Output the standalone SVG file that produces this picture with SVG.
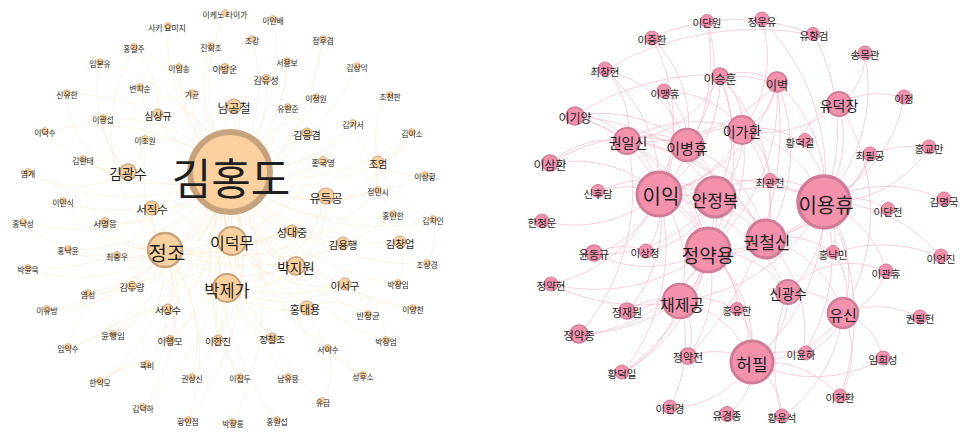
<svg xmlns="http://www.w3.org/2000/svg" width="967" height="435" viewBox="0 0 967 435">
<style>
.t{font-family:"Noto Sans CJK KR","Noto Sans",sans-serif;text-anchor:middle;dominant-baseline:central;fill:#1e1e1e}
.nl circle{fill:#fdd19f;stroke:#c6a37c}
.nr circle{fill:#f492ae;stroke:#cf7d96}
.el path{fill:none;stroke:#f6d8b0;stroke-width:0.7;opacity:0.45}
.er path{fill:none;stroke:#f6b3c6;stroke-width:0.85;opacity:0.75}
</style>
<rect width="967" height="435" fill="#ffffff"/>
<g id="edges-left" class="el">
<path d="M230 172A175 175 0 0 1 168 26"/><path d="M230 172A175 175 0 0 1 225 14"/><path d="M273 19A175 175 0 0 1 230 172"/>
<path d="M252 40A150 150 0 0 1 230 172"/><path d="M230 172A140 140 0 0 1 211 46"/><path d="M322 40A175 175 0 0 1 230 172"/>
<path d="M287 61A140 140 0 0 1 230 172"/><path d="M230 172A130 130 0 0 1 179 68"/><path d="M266 79A110 110 0 0 1 230 172"/>
<path d="M230 172A100 100 0 0 1 192 94"/><path d="M288 107A100 100 0 0 1 230 172"/><path d="M316 97A125 125 0 0 1 230 172"/>
<path d="M357 66A180 180 0 0 1 230 172"/><path d="M390 95A195 195 0 0 1 230 172"/><path d="M353 123A145 145 0 0 1 230 172"/>
<path d="M412 133A205 205 0 0 1 230 172"/><path d="M425 175A215 215 0 0 1 230 172"/><path d="M378 191A165 165 0 0 1 230 172"/>
<path d="M393 215A185 185 0 0 1 230 172"/><path d="M433 220A230 230 0 0 1 230 172"/><path d="M427 264A240 240 0 0 1 230 172"/>
<path d="M398 283A220 220 0 0 1 230 172"/><path d="M413 308A250 250 0 0 1 230 172"/><path d="M368 314A220 220 0 0 1 230 172"/>
<path d="M386 341A250 250 0 0 1 230 172"/><path d="M328 348A220 220 0 0 1 230 172"/><path d="M363 376A270 270 0 0 1 230 172"/>
<path d="M323 402A270 270 0 0 1 230 172"/><path d="M288 378A235 235 0 0 1 230 172"/><path d="M240 378A225 225 0 0 1 230 172"/>
<path d="M230 172A230 230 0 0 1 192 378"/><path d="M277 421A280 280 0 0 1 230 172"/><path d="M230 172A275 275 0 0 1 233 423"/>
<path d="M230 172A275 275 0 0 1 188 421"/><path d="M230 172A275 275 0 0 1 143 408"/><path d="M230 172A270 270 0 0 1 100 382"/>
<path d="M230 172A230 230 0 0 1 147 365"/><path d="M230 172A265 265 0 0 1 68 348"/><path d="M230 172A220 220 0 0 1 113 335"/>
<path d="M230 172A250 250 0 0 1 47 310"/><path d="M230 172A205 205 0 0 1 88 294"/><path d="M230 172A245 245 0 0 1 28 269"/>
<path d="M230 172A200 200 0 0 1 68 250"/><path d="M230 172A235 235 0 0 1 23 223"/><path d="M230 172A185 185 0 0 1 63 202"/>
<path d="M230 172A220 220 0 0 1 28 173"/><path d="M230 172A160 160 0 0 1 83 160"/><path d="M45 132A210 210 0 0 1 230 172"/>
<path d="M103 119A150 150 0 0 1 230 172"/><path d="M145 140A100 100 0 0 1 230 172"/><path d="M67 94A200 200 0 0 1 230 172"/>
<path d="M140 88A135 135 0 0 1 230 172"/><path d="M100 63A185 185 0 0 1 230 172"/><path d="M134 48A170 170 0 0 1 230 172"/>
<path d="M230 172A90 90 0 0 1 165 250"/><path d="M232 241A80 80 0 0 1 230 172"/><path d="M227 288A130 130 0 0 1 230 172"/>
<path d="M296 266A120 120 0 0 1 230 172"/><path d="M230 172A110 110 0 0 1 128 172"/><path d="M230 172A90 90 0 0 1 152 208"/>
<path d="M234 106A70 70 0 0 1 230 172"/><path d="M326 196A110 110 0 0 1 230 172"/><path d="M343 243A140 140 0 0 1 230 172"/>
<path d="M400 242A190 190 0 0 1 230 172"/><path d="M345 284A170 170 0 0 1 230 172"/><path d="M307 308A170 170 0 0 1 230 172"/>
<path d="M292 231A90 90 0 0 1 230 172"/><path d="M378 162A160 160 0 0 1 230 172"/><path d="M230 172A100 100 0 0 1 158 114"/>
<path d="M307 133A90 90 0 0 1 230 172"/><path d="M272 338A180 180 0 0 1 230 172"/><path d="M230 172A180 180 0 0 1 218 340"/>
<path d="M230 172A150 150 0 0 1 168 309"/><path d="M230 172A180 180 0 0 1 170 340"/><path d="M230 172A150 150 0 0 1 132 286"/>
<path d="M323 161A100 100 0 0 1 230 172"/><path d="M230 172A140 140 0 0 1 105 222"/><path d="M230 172A150 150 0 0 1 117 255"/>
<path d="M165 250A70 70 0 0 1 105 222"/><path d="M165 250A150 150 0 0 1 23 223"/><path d="M165 250A110 110 0 0 1 68 250"/>
<path d="M165 250A60 60 0 0 1 117 255"/><path d="M165 250A150 150 0 0 1 28 269"/><path d="M165 250A120 120 0 0 1 63 202"/>
<path d="M165 250A60 60 0 0 1 152 208"/><path d="M165 250A50 50 0 0 1 132 286"/><path d="M165 250A90 90 0 0 1 88 294"/>
<path d="M165 250A140 140 0 0 1 47 310"/><path d="M165 250A110 110 0 0 1 113 335"/><path d="M165 250A140 140 0 0 1 68 348"/>
<path d="M165 250A70 70 0 0 1 168 309"/><path d="M165 250A100 100 0 0 1 170 340"/><path d="M165 250A130 130 0 0 1 147 365"/>
<path d="M165 250A150 150 0 0 1 100 382"/><path d="M165 250A170 170 0 0 1 143 408"/><path d="M165 250A140 140 0 0 1 192 378"/>
<path d="M165 250A180 180 0 0 1 188 421"/><path d="M232 241A70 70 0 0 1 165 250"/><path d="M227 288A70 70 0 0 1 165 250"/>
<path d="M296 266A140 140 0 0 1 165 250"/><path d="M326 196A170 170 0 0 1 165 250"/><path d="M345 284A190 190 0 0 1 165 250"/>
<path d="M234 106A160 160 0 0 1 165 250"/><path d="M165 250A140 140 0 0 1 158 114"/><path d="M323 161A180 180 0 0 1 165 250"/>
<path d="M378 191A220 220 0 0 1 165 250"/><path d="M393 215A230 230 0 0 1 165 250"/><path d="M412 133A280 280 0 0 1 165 250"/>
<path d="M322 40A260 260 0 0 1 165 250"/><path d="M287 61A230 230 0 0 1 165 250"/><path d="M165 250A160 160 0 0 1 134 48"/>
<path d="M232 241A50 50 0 0 1 227 288"/><path d="M296 266A70 70 0 0 1 232 241"/><path d="M296 266A80 80 0 0 1 227 288"/>
<path d="M326 196A100 100 0 0 1 232 241"/><path d="M326 196A120 120 0 0 1 227 288"/><path d="M345 284A110 110 0 0 1 232 241"/>
<path d="M345 284A120 120 0 0 1 227 288"/><path d="M307 308A70 70 0 0 1 296 266"/><path d="M343 243A110 110 0 0 1 232 241"/>
<path d="M326 196A80 80 0 0 1 296 266"/><path d="M292 231A70 70 0 0 1 232 241"/><path d="M307 308A90 90 0 0 1 227 288"/>
<path d="M378 162A60 60 0 0 1 353 123"/><path d="M378 162A80 80 0 0 1 390 95"/><path d="M412 133A50 50 0 0 1 378 162"/>
<path d="M425 175A60 60 0 0 1 378 162"/><path d="M378 191A50 50 0 0 1 378 162"/><path d="M393 215A70 70 0 0 1 378 162"/>
<path d="M433 220A90 90 0 0 1 378 162"/><path d="M433 220A60 60 0 0 1 427 264"/><path d="M345 284A60 60 0 0 1 386 341"/>
<path d="M345 284A50 50 0 0 1 368 314"/><path d="M400 242A60 60 0 0 1 398 283"/><path d="M413 308A120 120 0 0 1 345 284"/>
<path d="M328 348A70 70 0 0 1 323 402"/><path d="M307 308A60 60 0 0 1 368 314"/><path d="M363 376A120 120 0 0 1 307 308"/>
<path d="M128 172A80 80 0 0 1 67 94"/><path d="M128 172A110 110 0 0 1 45 132"/><path d="M128 172A60 60 0 0 1 83 160"/>
<path d="M128 172A100 100 0 0 1 28 173"/><path d="M128 172A120 120 0 0 1 100 63"/><path d="M128 172A70 70 0 0 1 103 119"/>
<path d="M145 140A40 40 0 0 1 128 172"/><path d="M140 88A80 80 0 0 1 128 172"/><path d="M134 48A90 90 0 0 1 158 114"/>
<path d="M113 335A60 60 0 0 1 168 309"/><path d="M100 382A70 70 0 0 1 147 365"/><path d="M68 348A80 80 0 0 1 132 286"/>
<path d="M272 338A80 80 0 0 1 227 288"/><path d="M218 340A60 60 0 0 1 227 288"/><path d="M240 378A100 100 0 0 1 227 288"/>
</g>
<g id="edges-right" class="er">
<path d="M659 194A60 60 0 0 1 715 197"/><path d="M659 194A60 60 0 0 1 687 145"/><path d="M627 141A70 70 0 0 1 659 194"/>
<path d="M575 116A120 120 0 0 1 659 194"/><path d="M550 164A120 120 0 0 1 659 194"/><path d="M598 192A80 80 0 0 1 659 194"/>
<path d="M659 194A130 130 0 0 1 542 221"/><path d="M659 194A100 100 0 0 1 594 254"/><path d="M659 194A70 70 0 0 1 646 251"/>
<path d="M659 194A80 80 0 0 1 708 250"/><path d="M659 194A120 120 0 0 1 680 301"/><path d="M659 194A130 130 0 0 1 766 239"/>
<path d="M659 194A200 200 0 0 1 824 202"/><path d="M742 130A110 110 0 0 1 659 194"/><path d="M664 92A110 110 0 0 1 659 194"/>
<path d="M652 38A180 180 0 0 1 659 194"/><path d="M659 194A150 150 0 0 1 551 284"/><path d="M777 83A160 160 0 0 1 659 194"/>
<path d="M605 70A150 150 0 0 1 659 194"/><path d="M720 77A140 140 0 0 1 659 194"/><path d="M659 194A140 140 0 0 1 627 312"/>
<path d="M659 194A220 220 0 0 1 752 362"/><path d="M659 194A180 180 0 0 1 788 292"/><path d="M659 194A200 200 0 0 1 622 373"/>
<path d="M707 22A200 200 0 0 1 659 194"/>
<path d="M839 104A120 120 0 0 1 824 202"/><path d="M742 130A120 120 0 0 1 824 202"/><path d="M824 202A200 200 0 0 1 752 362"/>
<path d="M824 202A120 120 0 0 1 843 313"/><path d="M870 155A70 70 0 0 1 824 202"/><path d="M824 202A70 70 0 0 1 888 210"/>
<path d="M824 202A130 130 0 0 1 944 200"/><path d="M929 148A120 120 0 0 1 824 202"/><path d="M865 54A170 170 0 0 1 824 202"/>
<path d="M800 142A70 70 0 0 1 824 202"/><path d="M824 202A110 110 0 0 1 788 292"/><path d="M824 202A150 150 0 0 1 941 257"/>
<path d="M824 202A100 100 0 0 1 886 272"/><path d="M824 202A60 60 0 0 1 833 253"/><path d="M824 202A80 80 0 0 1 766 239"/>
<path d="M715 197A130 130 0 0 1 824 202"/><path d="M777 83A140 140 0 0 1 824 202"/><path d="M814 35A200 200 0 0 1 824 202"/>
<path d="M904 98A140 140 0 0 1 824 202"/><path d="M770 181A60 60 0 0 1 824 202"/><path d="M824 202A140 140 0 0 1 708 250"/>
<path d="M824 202A190 190 0 0 1 680 301"/><path d="M824 202A180 180 0 0 1 803 354"/><path d="M824 202A230 230 0 0 1 840 397"/>
<path d="M762 20A220 220 0 0 1 824 202"/>
<path d="M708 250A160 160 0 0 1 579 335"/><path d="M708 250A130 130 0 0 1 688 357"/><path d="M708 250A110 110 0 0 1 627 312"/>
<path d="M742 130A140 140 0 0 1 708 250"/><path d="M777 83A200 200 0 0 1 708 250"/><path d="M766 239A60 60 0 0 1 708 250"/>
<path d="M708 250A60 60 0 0 1 680 301"/><path d="M708 250A180 180 0 0 1 551 284"/><path d="M720 77A200 200 0 0 1 708 250"/>
<path d="M708 250A170 170 0 0 1 622 373"/><path d="M708 250A70 70 0 0 1 737 310"/><path d="M575 116A200 200 0 0 1 708 250"/>
<path d="M627 141A150 150 0 0 1 708 250"/><path d="M708 250A130 130 0 0 1 752 362"/><path d="M708 250A100 100 0 0 1 788 292"/>
<path d="M708 250A120 120 0 0 1 594 254"/>
<path d="M627 141A180 180 0 0 1 766 239"/><path d="M777 83A170 170 0 0 1 766 239"/><path d="M742 130A120 120 0 0 1 766 239"/>
<path d="M575 116A240 240 0 0 1 766 239"/><path d="M715 197A70 70 0 0 1 766 239"/><path d="M766 239A110 110 0 0 1 843 313"/>
<path d="M766 239A80 80 0 0 1 833 253"/><path d="M766 239A130 130 0 0 1 803 354"/><path d="M870 155A140 140 0 0 1 766 239"/>
<path d="M720 77A170 170 0 0 1 766 239"/>
<path d="M752 362A60 60 0 0 1 727 415"/><path d="M752 362A100 100 0 0 1 670 408"/><path d="M752 362A70 70 0 0 1 782 417"/>
<path d="M788 292A80 80 0 0 1 752 362"/><path d="M843 313A110 110 0 0 1 752 362"/><path d="M680 301A100 100 0 0 1 752 362"/>
<path d="M752 362A100 100 0 0 1 840 397"/><path d="M752 362A140 140 0 0 0 883 359"/><path d="M688 357A70 70 0 0 1 752 362"/>
<path d="M752 362A60 60 0 0 1 803 354"/><path d="M737 310A60 60 0 0 1 752 362"/>
<path d="M843 313A90 90 0 0 1 920 318"/><path d="M843 313A60 60 0 0 1 883 359"/><path d="M843 313A90 90 0 0 1 840 397"/>
<path d="M833 253A60 60 0 0 1 843 313"/><path d="M788 292A60 60 0 0 1 843 313"/><path d="M886 272A60 60 0 0 1 843 313"/>
<path d="M843 313A60 60 0 0 1 803 354"/><path d="M843 313A150 150 0 0 1 782 417"/>
<path d="M687 145A60 60 0 0 1 715 197"/><path d="M742 130A80 80 0 0 1 715 197"/><path d="M715 197A220 220 0 0 1 622 373"/>
<path d="M627 141A100 100 0 0 1 715 197"/><path d="M598 192A120 120 0 0 1 715 197"/><path d="M715 197A140 140 0 0 1 594 254"/>
<path d="M715 197A90 90 0 0 1 646 251"/><path d="M715 197A60 60 0 0 1 770 181"/><path d="M720 77A130 130 0 0 1 715 197"/>
<path d="M715 197A120 120 0 0 1 680 301"/>
<path d="M687 145A60 60 0 0 1 742 130"/><path d="M664 92A60 60 0 0 1 687 145"/><path d="M627 141A60 60 0 0 1 687 145"/>
<path d="M550 164A160 160 0 0 1 687 145"/><path d="M575 116A130 130 0 0 1 687 145"/><path d="M652 38A120 120 0 0 1 687 145"/>
<path d="M707 22A130 130 0 0 1 687 145"/><path d="M687 145A130 130 0 0 1 766 239"/><path d="M605 70A110 110 0 0 1 687 145"/>
<path d="M777 83A60 60 0 0 1 742 130"/><path d="M720 77A60 60 0 0 1 742 130"/><path d="M762 20A120 120 0 0 1 742 130"/>
<path d="M742 130A70 70 0 0 1 800 142"/><path d="M627 141A130 130 0 0 1 742 130"/><path d="M664 92A90 90 0 0 1 742 130"/>
<path d="M742 130A60 60 0 0 1 770 181"/><path d="M839 104A110 110 0 0 1 742 130"/>
<path d="M575 116A60 60 0 0 1 627 141"/><path d="M605 70A80 80 0 0 1 627 141"/><path d="M720 77A120 120 0 0 1 627 141"/>
<path d="M777 83A180 180 0 0 1 627 141"/><path d="M627 141A220 220 0 0 1 579 335"/><path d="M550 164A90 90 0 0 1 627 141"/>
<path d="M720 77A60 60 0 0 1 777 83"/><path d="M777 83A330 330 0 0 1 688 357"/>
<path d="M605 70A300 300 0 0 1 814 35"/><path d="M652 38A200 200 0 0 1 814 35"/><path d="M575 116A250 250 0 0 1 777 83"/>
<path d="M865 54A60 60 0 0 1 839 104"/><path d="M839 104A80 80 0 0 1 904 98"/><path d="M870 155A100 100 0 0 1 929 148"/>
<path d="M800 142A60 60 0 0 1 839 104"/><path d="M839 104A200 200 0 0 1 843 313"/>
<path d="M594 254A60 60 0 0 1 646 251"/><path d="M627 312A60 60 0 0 1 680 301"/><path d="M551 284A200 200 0 0 0 680 301"/>
<path d="M579 335A200 200 0 0 0 680 301"/><path d="M622 373A120 120 0 0 0 680 301"/><path d="M670 408A150 150 0 0 0 680 301"/>
<path d="M680 301A70 70 0 0 1 737 310"/><path d="M680 301A60 60 0 0 1 688 357"/><path d="M886 272A80 80 0 0 0 788 292"/>
<path d="M941 257A150 150 0 0 0 833 253"/><path d="M782 417A200 200 0 0 1 788 292"/>
</g>
<g id="L_김홍도" class="nl"><circle cx="230" cy="172" r="40" stroke-width="6"/><text class="t" x="231" y="176" font-size="43">김홍도</text></g>
<g id="L_정조" class="nl"><circle cx="165" cy="250" r="17" stroke-width="2.5"/><text class="t" x="167" y="252" font-size="20">정조</text></g>
<g id="L_이덕무" class="nl"><circle cx="232" cy="241" r="14" stroke-width="2"/><text class="t" x="232" y="242" font-size="16">이덕무</text></g>
<g id="L_박제가" class="nl"><circle cx="227" cy="288" r="14" stroke-width="2"/><text class="t" x="227" y="290" font-size="16.5">박제가</text></g>
<g id="L_박지원" class="nl"><circle cx="296" cy="266" r="9" stroke-width="1.5"/><text class="t" x="296" y="267" font-size="13.5">박지원</text></g>
<g id="L_김광수" class="nl"><circle cx="128" cy="172" r="8" stroke-width="1.5"/><text class="t" x="128" y="173" font-size="13.5">김광수</text></g>
<g id="L_서직수" class="nl"><circle cx="152" cy="208" r="7" stroke-width="1.2"/><text class="t" x="152" y="209" font-size="11.5">서직수</text></g>
<g id="L_남공철" class="nl"><circle cx="234" cy="106" r="7" stroke-width="1.2"/><text class="t" x="234" y="107" font-size="12">남공철</text></g>
<g id="L_유득공" class="nl"><circle cx="326" cy="196" r="8" stroke-width="1.2"/><text class="t" x="326" y="197" font-size="12">유득공</text></g>
<g id="L_김용행" class="nl"><circle cx="343" cy="243" r="6" stroke-width="1"/><text class="t" x="343" y="244" font-size="10.5">김용행</text></g>
<g id="L_김창업" class="nl"><circle cx="400" cy="242" r="6" stroke-width="1"/><text class="t" x="400" y="243" font-size="10.5">김창업</text></g>
<g id="L_이서구" class="nl"><circle cx="345" cy="284" r="6" stroke-width="1"/><text class="t" x="345" y="285" font-size="10.5">이서구</text></g>
<g id="L_홍대용" class="nl"><circle cx="307" cy="308" r="7" stroke-width="1"/><text class="t" x="305" y="309" font-size="11">홍대용</text></g>
<g id="L_성대중" class="nl"><circle cx="292" cy="231" r="6" stroke-width="1"/><text class="t" x="292" y="232" font-size="11">성대중</text></g>
<g id="L_조엄" class="nl"><circle cx="378" cy="162" r="6" stroke-width="1"/><text class="t" x="378" y="163" font-size="10">조엄</text></g>
<g id="L_심상규" class="nl"><circle cx="158" cy="114" r="5" stroke-width="1"/><text class="t" x="158" y="115" font-size="10">심상규</text></g>
<g id="L_김응겸" class="nl"><circle cx="307" cy="133" r="5" stroke-width="1"/><text class="t" x="307" y="134" font-size="10">김응겸</text></g>
<g id="L_정철조" class="nl"><circle cx="272" cy="338" r="5" stroke-width="1"/><text class="t" x="272" y="339" font-size="9.5">정철조</text></g>
<g id="L_이한진" class="nl"><circle cx="218" cy="340" r="5" stroke-width="1"/><text class="t" x="218" y="341" font-size="9.5">이한진</text></g>
<g id="L_서상수" class="nl"><circle cx="168" cy="309" r="5" stroke-width="1"/><text class="t" x="168" y="310" font-size="9.5">서상수</text></g>
<g id="L_이행모" class="nl"><circle cx="170" cy="340" r="4.5" stroke-width="1"/><text class="t" x="170" y="341" font-size="9">이행모</text></g>
<g id="L_김두량" class="nl"><circle cx="132" cy="286" r="4.5" stroke-width="1"/><text class="t" x="132" y="287" font-size="9">김두량</text></g>
<g id="L_홍국영" class="nl"><circle cx="323" cy="161" r="4.5" stroke-width="0.8"/><text class="t" x="323" y="162" font-size="8.5">홍국영</text></g>
<g id="L_김유성" class="nl"><circle cx="266" cy="79" r="4.5" stroke-width="0.8"/><text class="t" x="266" y="80" font-size="9">김유성</text></g>
<g id="L_이방운" class="nl"><circle cx="225" cy="68" r="4.5" stroke-width="0.8"/><text class="t" x="225" y="69" font-size="9">이방운</text></g>
<g id="L_서명응" class="nl"><circle cx="105" cy="222" r="4.5" stroke-width="0.8"/><text class="t" x="105" y="223" font-size="8.5">서명응</text></g>
<g id="L_최충우" class="nl"><circle cx="117" cy="255" r="3.5" stroke-width="0.8"/><text class="t" x="117" y="256" font-size="8">최충우</text></g>
<g id="L_사키요미지" class="nl"><circle cx="168" cy="26" r="3.5" stroke-width="0.6"/><text class="t" x="167" y="27" font-size="7.8">사키 요미지</text></g>
<g id="L_이케노타이가" class="nl"><circle cx="225" cy="13" r="3.5" stroke-width="0.6"/><text class="t" x="225" y="14" font-size="7.8">이케노 타이가</text></g>
<g id="L_이인배" class="nl"><circle cx="273" cy="19" r="3.5" stroke-width="0.6"/><text class="t" x="273" y="20" font-size="7.8">이인배</text></g>
<g id="L_조강" class="nl"><circle cx="252" cy="39" r="3.5" stroke-width="0.6"/><text class="t" x="252" y="40" font-size="7.8">조강</text></g>
<g id="L_진회조" class="nl"><circle cx="211" cy="46" r="3.5" stroke-width="0.6"/><text class="t" x="211" y="47" font-size="7.8">진회조</text></g>
<g id="L_정후겸" class="nl"><circle cx="323" cy="39" r="3.5" stroke-width="0.6"/><text class="t" x="323" y="40" font-size="7.8">정후겸</text></g>
<g id="L_서용보" class="nl"><circle cx="287" cy="61" r="3.5" stroke-width="0.6"/><text class="t" x="287" y="62" font-size="7.8">서용보</text></g>
<g id="L_이임송" class="nl"><circle cx="179" cy="67" r="3.5" stroke-width="0.6"/><text class="t" x="179" y="68" font-size="7.8">이임송</text></g>
<g id="L_기균" class="nl"><circle cx="192" cy="93" r="3.5" stroke-width="0.6"/><text class="t" x="192" y="94" font-size="7.8">기균</text></g>
<g id="L_유한준" class="nl"><circle cx="288" cy="107" r="3.5" stroke-width="0.6"/><text class="t" x="288" y="108" font-size="7.8">유한준</text></g>
<g id="L_이정원" class="nl"><circle cx="316" cy="97" r="3.5" stroke-width="0.6"/><text class="t" x="316" y="98" font-size="7.8">이정원</text></g>
<g id="L_김상익" class="nl"><circle cx="357" cy="66" r="3.5" stroke-width="0.6"/><text class="t" x="357" y="67" font-size="7.8">김상익</text></g>
<g id="L_조천판" class="nl"><circle cx="390" cy="95" r="3.5" stroke-width="0.6"/><text class="t" x="390" y="96" font-size="7.8">조천판</text></g>
<g id="L_김기서" class="nl"><circle cx="353" cy="123" r="3.5" stroke-width="0.6"/><text class="t" x="353" y="124" font-size="7.8">김기서</text></g>
<g id="L_김이소" class="nl"><circle cx="412" cy="132" r="3.5" stroke-width="0.6"/><text class="t" x="412" y="133" font-size="7.8">김이소</text></g>
<g id="L_이상황" class="nl"><circle cx="425" cy="175" r="3.5" stroke-width="0.6"/><text class="t" x="425" y="176" font-size="7.8">이상황</text></g>
<g id="L_정민시" class="nl"><circle cx="378" cy="190" r="3.5" stroke-width="0.6"/><text class="t" x="378" y="191" font-size="7.8">정민시</text></g>
<g id="L_홍인한" class="nl"><circle cx="393" cy="214" r="3.5" stroke-width="0.6"/><text class="t" x="393" y="215" font-size="7.8">홍인한</text></g>
<g id="L_김치인" class="nl"><circle cx="433" cy="219" r="3.5" stroke-width="0.6"/><text class="t" x="433" y="220" font-size="7.8">김치인</text></g>
<g id="L_조상경" class="nl"><circle cx="427" cy="263" r="3.5" stroke-width="0.6"/><text class="t" x="427" y="264" font-size="7.8">조상경</text></g>
<g id="L_박장임" class="nl"><circle cx="398" cy="283" r="3.5" stroke-width="0.6"/><text class="t" x="398" y="284" font-size="7.8">박장임</text></g>
<g id="L_이양천" class="nl"><circle cx="413" cy="308" r="3.5" stroke-width="0.6"/><text class="t" x="413" y="309" font-size="7.8">이양천</text></g>
<g id="L_반정균" class="nl"><circle cx="368" cy="314" r="3.5" stroke-width="0.6"/><text class="t" x="368" y="315" font-size="8.5">반정균</text></g>
<g id="L_박장엄" class="nl"><circle cx="386" cy="340" r="3.5" stroke-width="0.6"/><text class="t" x="386" y="341" font-size="7.8">박장엄</text></g>
<g id="L_서이수" class="nl"><circle cx="328" cy="348" r="3.5" stroke-width="0.6"/><text class="t" x="328" y="349" font-size="7.8">서이수</text></g>
<g id="L_성후소" class="nl"><circle cx="363" cy="375" r="3.5" stroke-width="0.6"/><text class="t" x="363" y="376" font-size="7.8">성후소</text></g>
<g id="L_유금" class="nl"><circle cx="322" cy="401" r="3.5" stroke-width="0.6"/><text class="t" x="323" y="402" font-size="7.8">유금</text></g>
<g id="L_남유용" class="nl"><circle cx="288" cy="377" r="3.5" stroke-width="0.6"/><text class="t" x="288" y="378" font-size="7.8">남유용</text></g>
<g id="L_이집두" class="nl"><circle cx="240" cy="377" r="3.5" stroke-width="0.6"/><text class="t" x="240" y="378" font-size="7.8">이집두</text></g>
<g id="L_권상신" class="nl"><circle cx="192" cy="377" r="3.5" stroke-width="0.6"/><text class="t" x="192" y="378" font-size="7.8">권상신</text></g>
<g id="L_홍원섭" class="nl"><circle cx="277" cy="420" r="3.5" stroke-width="0.6"/><text class="t" x="277" y="421" font-size="7.8">홍원섭</text></g>
<g id="L_박장릉" class="nl"><circle cx="233" cy="422" r="3.5" stroke-width="0.6"/><text class="t" x="233" y="423" font-size="7.8">박장릉</text></g>
<g id="L_황인점" class="nl"><circle cx="188" cy="420" r="3.5" stroke-width="0.6"/><text class="t" x="188" y="421" font-size="7.8">황인점</text></g>
<g id="L_김덕하" class="nl"><circle cx="143" cy="407" r="3.5" stroke-width="0.6"/><text class="t" x="143" y="408" font-size="7.8">김덕하</text></g>
<g id="L_한익모" class="nl"><circle cx="100" cy="381" r="3.5" stroke-width="0.6"/><text class="t" x="100" y="382" font-size="7.8">한익모</text></g>
<g id="L_육비" class="nl"><circle cx="147" cy="364" r="3.5" stroke-width="0.6"/><text class="t" x="147" y="365" font-size="7.8">육비</text></g>
<g id="L_임익수" class="nl"><circle cx="68" cy="347" r="3.5" stroke-width="0.6"/><text class="t" x="68" y="348" font-size="7.8">임익수</text></g>
<g id="L_윤행임" class="nl"><circle cx="113" cy="334" r="3.5" stroke-width="0.6"/><text class="t" x="113" y="335" font-size="8.5">윤행임</text></g>
<g id="L_이유방" class="nl"><circle cx="47" cy="309" r="3.5" stroke-width="0.6"/><text class="t" x="47" y="310" font-size="7.8">이유방</text></g>
<g id="L_염성" class="nl"><circle cx="88" cy="293" r="3.5" stroke-width="0.6"/><text class="t" x="88" y="294" font-size="7.8">염성</text></g>
<g id="L_박윤묵" class="nl"><circle cx="28" cy="268" r="3.5" stroke-width="0.6"/><text class="t" x="28" y="269" font-size="7.8">박윤묵</text></g>
<g id="L_홍낙윤" class="nl"><circle cx="68" cy="249" r="3.5" stroke-width="0.6"/><text class="t" x="68" y="250" font-size="7.8">홍낙윤</text></g>
<g id="L_홍낙성" class="nl"><circle cx="23" cy="222" r="3.5" stroke-width="0.6"/><text class="t" x="23" y="223" font-size="7.8">홍낙성</text></g>
<g id="L_이민식" class="nl"><circle cx="63" cy="201" r="3.5" stroke-width="0.6"/><text class="t" x="63" y="202" font-size="7.8">이민식</text></g>
<g id="L_염개" class="nl"><circle cx="28" cy="172" r="3.5" stroke-width="0.6"/><text class="t" x="28" y="173" font-size="7.8">염개</text></g>
<g id="L_김한태" class="nl"><circle cx="83" cy="159" r="3.5" stroke-width="0.6"/><text class="t" x="83" y="160" font-size="7.8">김한태</text></g>
<g id="L_이덕수" class="nl"><circle cx="45" cy="131" r="3.5" stroke-width="0.6"/><text class="t" x="45" y="132" font-size="7.8">이덕수</text></g>
<g id="L_이광섭" class="nl"><circle cx="103" cy="118" r="3.5" stroke-width="0.6"/><text class="t" x="103" y="119" font-size="7.8">이광섭</text></g>
<g id="L_이조원" class="nl"><circle cx="145" cy="139" r="3.5" stroke-width="0.6"/><text class="t" x="145" y="140" font-size="7.8">이조원</text></g>
<g id="L_신유한" class="nl"><circle cx="67" cy="93" r="3.5" stroke-width="0.6"/><text class="t" x="67" y="94" font-size="7.8">신유한</text></g>
<g id="L_변치순" class="nl"><circle cx="140" cy="87" r="3.5" stroke-width="0.6"/><text class="t" x="140" y="88" font-size="7.8">변치순</text></g>
<g id="L_임본유" class="nl"><circle cx="100" cy="62" r="3.5" stroke-width="0.6"/><text class="t" x="100" y="63" font-size="7.8">임본유</text></g>
<g id="L_홍길주" class="nl"><circle cx="134" cy="47" r="3.5" stroke-width="0.6"/><text class="t" x="134" y="48" font-size="7.8">홍길주</text></g>
<g id="R_이익" class="nr"><circle cx="659" cy="194" r="22" stroke-width="3"/><text class="t" x="661" y="195" font-size="20">이익</text></g>
<g id="R_이용휴" class="nr"><circle cx="824" cy="202" r="26" stroke-width="3.5"/><text class="t" x="826" y="204" font-size="20">이용휴</text></g>
<g id="R_정약용" class="nr"><circle cx="708" cy="250" r="22" stroke-width="3"/><text class="t" x="708" y="254" font-size="19">정약용</text></g>
<g id="R_안정복" class="nr"><circle cx="715" cy="197" r="20" stroke-width="3"/><text class="t" x="715" y="199" font-size="17">안정복</text></g>
<g id="R_권철신" class="nr"><circle cx="766" cy="239" r="19" stroke-width="3"/><text class="t" x="767" y="241" font-size="17">권철신</text></g>
<g id="R_채제공" class="nr"><circle cx="680" cy="301" r="17" stroke-width="2.5"/><text class="t" x="682" y="304" font-size="16">채제공</text></g>
<g id="R_허필" class="nr"><circle cx="752" cy="362" r="21" stroke-width="3"/><text class="t" x="752" y="363" font-size="17">허필</text></g>
<g id="R_유신" class="nr"><circle cx="843" cy="313" r="15" stroke-width="2.5"/><text class="t" x="843" y="314" font-size="15">유신</text></g>
<g id="R_이병휴" class="nr"><circle cx="687" cy="145" r="16" stroke-width="2.5"/><text class="t" x="687" y="147" font-size="15">이병휴</text></g>
<g id="R_이가환" class="nr"><circle cx="742" cy="130" r="14" stroke-width="2"/><text class="t" x="742" y="131" font-size="14">이가환</text></g>
<g id="R_권일신" class="nr"><circle cx="627" cy="141" r="13" stroke-width="2"/><text class="t" x="628" y="142" font-size="14">권일신</text></g>
<g id="R_유덕장" class="nr"><circle cx="839" cy="104" r="12" stroke-width="2"/><text class="t" x="839" y="105" font-size="14">유덕장</text></g>
<g id="R_신광수" class="nr"><circle cx="788" cy="292" r="12" stroke-width="2"/><text class="t" x="788" y="293" font-size="13.5">신광수</text></g>
<g id="R_이벽" class="nr"><circle cx="777" cy="82" r="10" stroke-width="1.5"/><text class="t" x="777" y="84" font-size="12">이벽</text></g>
<g id="R_이승훈" class="nr"><circle cx="720" cy="76" r="8" stroke-width="1.5"/><text class="t" x="720" y="78" font-size="12">이승훈</text></g>
<g id="R_이기양" class="nr"><circle cx="575" cy="116" r="9" stroke-width="1.5"/><text class="t" x="575" y="117" font-size="12">이기양</text></g>
<g id="R_이삼환" class="nr"><circle cx="550" cy="163" r="8" stroke-width="1.5"/><text class="t" x="550" y="164" font-size="12">이삼환</text></g>
<g id="R_정약종" class="nr"><circle cx="579" cy="334" r="9" stroke-width="1.5"/><text class="t" x="579" y="335" font-size="11.5">정약종</text></g>
<g id="R_정재원" class="nr"><circle cx="627" cy="311" r="8" stroke-width="1.5"/><text class="t" x="627" y="312" font-size="11">정재원</text></g>
<g id="R_윤동규" class="nr"><circle cx="594" cy="253" r="8" stroke-width="1.5"/><text class="t" x="594" y="254" font-size="11">윤동규</text></g>
<g id="R_정약전" class="nr"><circle cx="688" cy="356" r="8" stroke-width="1.5"/><text class="t" x="688" y="357" font-size="11">정약전</text></g>
<g id="R_이중환" class="nr"><circle cx="652" cy="38" r="7" stroke-width="1"/><text class="t" x="652" y="39" font-size="10.5">이중환</text></g>
<g id="R_최창현" class="nr"><circle cx="605" cy="69" r="7" stroke-width="1"/><text class="t" x="605" y="71" font-size="10.5">최창현</text></g>
<g id="R_신후담" class="nr"><circle cx="598" cy="191" r="6.5" stroke-width="1"/><text class="t" x="598" y="193" font-size="10.5">신후담</text></g>
<g id="R_한정운" class="nr"><circle cx="542" cy="221" r="7" stroke-width="1"/><text class="t" x="542" y="222" font-size="10.5">한정운</text></g>
<g id="R_이상정" class="nr"><circle cx="646" cy="251" r="7" stroke-width="1"/><text class="t" x="645" y="252" font-size="10.5">이상정</text></g>
<g id="R_정약현" class="nr"><circle cx="551" cy="284" r="7" stroke-width="1"/><text class="t" x="551" y="285" font-size="10.5">정약현</text></g>
<g id="R_황덕일" class="nr"><circle cx="622" cy="372" r="7" stroke-width="1"/><text class="t" x="622" y="373" font-size="10.5">황덕일</text></g>
<g id="R_이단원" class="nr"><circle cx="707" cy="21" r="6.5" stroke-width="1"/><text class="t" x="707" y="22" font-size="10.5">이단원</text></g>
<g id="R_정운유" class="nr"><circle cx="762" cy="19" r="7" stroke-width="1"/><text class="t" x="762" y="21" font-size="10.5">정운유</text></g>
<g id="R_이맹휴" class="nr"><circle cx="664" cy="91" r="7" stroke-width="1"/><text class="t" x="665" y="93" font-size="10.5">이맹휴</text></g>
<g id="R_유항검" class="nr"><circle cx="813" cy="34" r="6.5" stroke-width="1"/><text class="t" x="814" y="35" font-size="10.5">유항검</text></g>
<g id="R_송목관" class="nr"><circle cx="865" cy="53" r="7" stroke-width="1"/><text class="t" x="865" y="54" font-size="10.5">송목관</text></g>
<g id="R_이정" class="nr"><circle cx="904" cy="97" r="7" stroke-width="1"/><text class="t" x="904" y="98" font-size="10.5">이정</text></g>
<g id="R_홍교만" class="nr"><circle cx="929" cy="147" r="7" stroke-width="1"/><text class="t" x="929" y="148" font-size="10.5">홍교만</text></g>
<g id="R_최필공" class="nr"><circle cx="870" cy="154" r="7" stroke-width="1"/><text class="t" x="870" y="155" font-size="10.5">최필공</text></g>
<g id="R_황덕길" class="nr"><circle cx="805" cy="140" r="6.5" stroke-width="1"/><text class="t" x="800" y="142" font-size="10.5">황덕길</text></g>
<g id="R_최관천" class="nr"><circle cx="770" cy="180" r="6.5" stroke-width="1"/><text class="t" x="770" y="182" font-size="10.5">최관천</text></g>
<g id="R_이단전" class="nr"><circle cx="888" cy="209" r="6.5" stroke-width="1"/><text class="t" x="888" y="211" font-size="10.5">이단전</text></g>
<g id="R_김명국" class="nr"><circle cx="944" cy="199" r="7" stroke-width="1"/><text class="t" x="944" y="201" font-size="10.5">김명국</text></g>
<g id="R_홍낙민" class="nr"><circle cx="833" cy="252" r="6.5" stroke-width="1"/><text class="t" x="833" y="254" font-size="10.5">홍낙민</text></g>
<g id="R_이언진" class="nr"><circle cx="941" cy="256" r="7" stroke-width="1"/><text class="t" x="941" y="258" font-size="10.5">이언진</text></g>
<g id="R_이관휴" class="nr"><circle cx="886" cy="271" r="7" stroke-width="1"/><text class="t" x="886" y="273" font-size="10.5">이관휴</text></g>
<g id="R_권필헌" class="nr"><circle cx="920" cy="317" r="7" stroke-width="1"/><text class="t" x="920" y="318" font-size="10.5">권필헌</text></g>
<g id="R_임희성" class="nr"><circle cx="883" cy="358" r="7" stroke-width="1"/><text class="t" x="883" y="359" font-size="10.5">임희성</text></g>
<g id="R_이현환" class="nr"><circle cx="840" cy="396" r="7" stroke-width="1"/><text class="t" x="840" y="397" font-size="10.5">이현환</text></g>
<g id="R_이윤하" class="nr"><circle cx="806" cy="353" r="7" stroke-width="1"/><text class="t" x="801" y="354" font-size="10.5">이윤하</text></g>
<g id="R_황윤석" class="nr"><circle cx="782" cy="416" r="7" stroke-width="1"/><text class="t" x="782" y="417" font-size="10.5">황윤석</text></g>
<g id="R_유경종" class="nr"><circle cx="727" cy="414" r="7.5" stroke-width="1"/><text class="t" x="727" y="415" font-size="10.5">유경종</text></g>
<g id="R_이헌경" class="nr"><circle cx="670" cy="407" r="7" stroke-width="1"/><text class="t" x="670" y="408" font-size="10.5">이헌경</text></g>
<g id="R_홍유한" class="nr"><circle cx="737" cy="309" r="6.5" stroke-width="1"/><text class="t" x="737" y="310" font-size="10.5">홍유한</text></g>
</svg>
